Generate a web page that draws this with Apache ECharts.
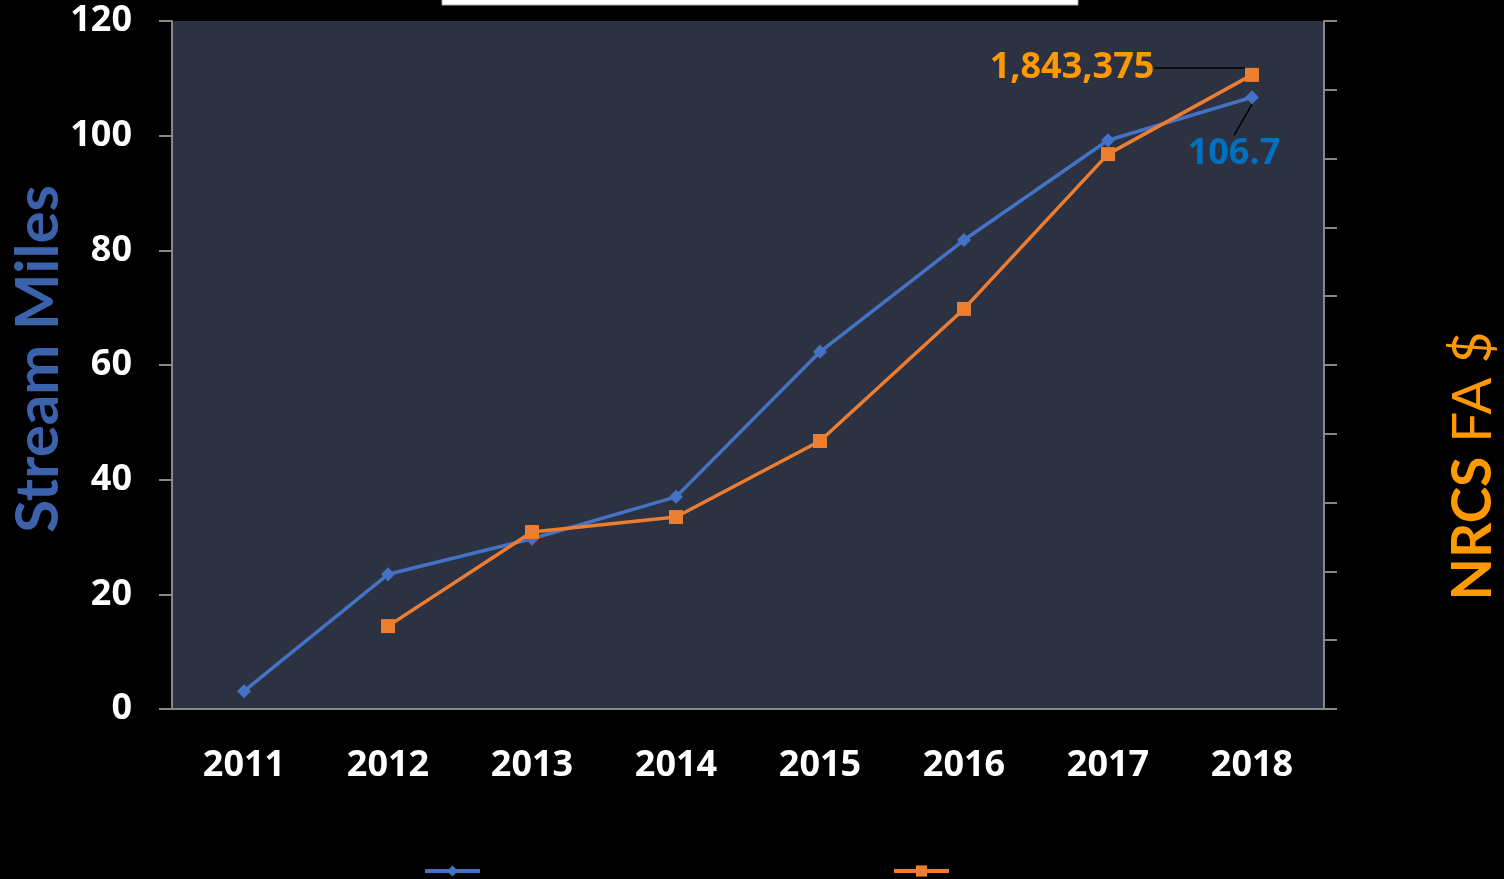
<!DOCTYPE html>
<html>
<head>
<meta charset="utf-8">
<script src="https://cdn.jsdelivr.net/npm/echarts@6/dist/echarts.min.js"></script>
<style>
  html, body { margin: 0; padding: 0; background: #000; }
  #chart { width: 1504px; height: 879px; }
</style>
</head>
<body>
<div id="chart"></div>
<script>
// data
var years = ['2011', '2012', '2013', '2014', '2015', '2016', '2017', '2018'];
var streamMiles = [3.1, 23.5, 29.7, 37.0, 62.3, 81.8, 99.2, 106.7];
var nrcsFA = ['-', 241000, 514500, 558000, 779000, 1163000, 1613000, 1843375];

var chart = echarts.init(document.getElementById('chart'));
var font = '"Open Sans", Lato, sans-serif';

// only the last point carries a label (with leader line)
function lastLabelled(arr) {
  return arr.map(function (v, i) {
    if (i !== arr.length - 1) return v;
    return { value: v, label: { show: true }, labelLine: { show: true } };
  });
}

var option = {
  backgroundColor: '#000',
  animation: false,
  textStyle: { fontFamily: font },
  grid: {
    left: 172, right: 180, top: 21, bottom: 170,
    outerBoundsMode: 'none',
    show: true, backgroundColor: '#2c3242', borderWidth: 0
  },
  legend: [{
    left: 418, top: 858,
    itemWidth: 55, itemHeight: 14,
    lineStyle: { width: 4 },
    textStyle: { color: '#000', fontSize: 16 },
    data: ['Stream Miles']
  }, {
    left: 887, top: 858,
    itemWidth: 55, itemHeight: 14,
    lineStyle: { width: 4 },
    textStyle: { color: '#000', fontSize: 16 },
    data: ['NRCS FA $']
  }],
  graphic: [{
    type: 'rect',
    shape: { x: 442, y: -4, width: 636, height: 9 },
    style: { fill: '#fff', stroke: '#aaa', lineWidth: 1 }
  }, {
    // axis titles
    type: 'text',
    x: 39, y: 359,
    rotation: Math.PI / 2,
    style: {
      text: 'Stream Miles',
      align: 'center', verticalAlign: 'middle',
      fill: '#3d62ac', fontSize: 60, fontWeight: 'bold', fontFamily: 'Lato'
    }
  }, {
    type: 'text',
    x: 1473, y: 466,
    rotation: Math.PI / 2,
    style: {
      text: '{b|NRCS}{n| FA $}',
      align: 'center', verticalAlign: 'middle',
      rich: {
        b: { fill: '#ff9900', fontSize: 55, fontWeight: 'bold', fontFamily: 'Lato' },
        n: { fill: '#ff9900', fontSize: 55, fontWeight: 'normal', fontFamily: 'Lato' }
      }
    }
  }],
  xAxis: {
    type: 'category',
    data: years,
    axisLine: { lineStyle: { color: '#888', width: 2 } },
    axisTick: { show: false },
    axisLabel: { color: '#fff', fontSize: 36, fontWeight: 'bold', margin: 39 }
  },
  yAxis: [{
    type: 'value',
    min: 0, max: 120, interval: 20,
    axisLine: { show: true, lineStyle: { color: '#888', width: 2 } },
    axisTick: { show: true, length: 13, lineStyle: { color: '#888', width: 2 } },
    axisLabel: { color: '#fff', fontSize: 36, fontWeight: 'bold', margin: 40 },
    splitLine: { show: false }
  }, {
    type: 'value',
    min: 0, max: 2000000, interval: 200000,
    position: 'right',
    axisLine: { show: true, lineStyle: { color: '#888', width: 2 } },
    axisTick: { show: true, length: 13, lineStyle: { color: '#888', width: 2 } },
    axisLabel: { show: false },
    splitLine: { show: false }
  }],
  series: [{
    name: 'Stream Miles',
    type: 'line',
    yAxisIndex: 0,
    data: lastLabelled(streamMiles),
    symbol: 'diamond',
    symbolSize: 14,
    lineStyle: { color: '#4472c4', width: 3.5 },
    itemStyle: { color: '#4472c4' },
    label: {
      show: false,
      color: '#0070c0', fontSize: 36, fontWeight: 'bold'
    },
    labelLine: { show: false, lineStyle: { color: '#000', width: 1.5 } },
    labelLayout: function (p) {
      if (p.dataIndex !== streamMiles.length - 1) return {};
      return { dx: -18, dy: 86 };
    }
  }, {
    name: 'NRCS FA $',
    type: 'line',
    yAxisIndex: 1,
    data: lastLabelled(nrcsFA),
    symbol: 'rect',
    symbolSize: 14,
    lineStyle: { color: '#ed7d31', width: 3.5 },
    itemStyle: { color: '#ed7d31' },
    label: {
      show: false,
      color: '#ff9900', fontSize: 36, fontWeight: 'bold',
      formatter: function (p) { return Number(p.value).toLocaleString('en-US'); }
    },
    labelLine: { show: false, lineStyle: { color: '#000', width: 1.5 } },
    labelLayout: function (p) {
      if (p.dataIndex !== nrcsFA.length - 1) return {};
      return { dx: -180, dy: 23 };
    }
  }]
};

chart.setOption(option);
</script>
</body>
</html>
